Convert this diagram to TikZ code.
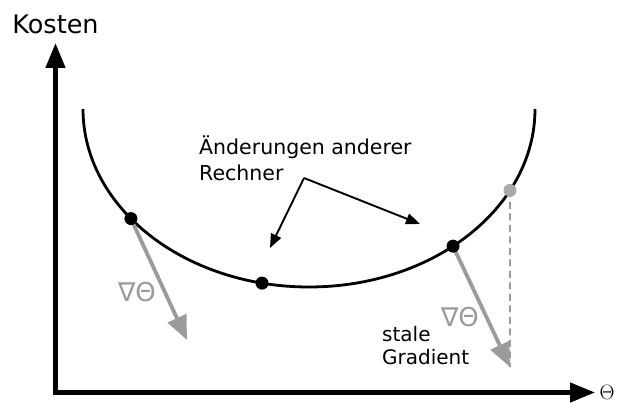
\documentclass[tikz,border=0pt]{standalone}
\usepackage{fontspec}
\setmainfont{DejaVu Sans}
\usetikzlibrary{arrows.meta,calc}
\definecolor{gradgray}{RGB}{155,155,155}
\begin{document}
\begin{tikzpicture}[x=1pt,y=-1pt,
  axis/.style={line width=4.5pt,-{Triangle[length=25pt,width=19pt]}},
  curve/.style={line width=2.8pt},
  grad/.style={gradgray,line width=3.8pt,-{Triangle[length=24pt,width=20pt]}},
  pointer/.style={line width=1.9pt,-{Triangle[length=14pt,width=11pt]}},
  dot/.style={circle,fill=black,inner sep=0pt,minimum size=13pt},
  graydot/.style={circle,fill=gradgray!85,inner sep=0pt,minimum size=13pt},
  lbl/.style={inner sep=0pt,font=\fontsize{20.5}{26}\selectfont},
  gradlbl/.style={inner sep=0pt,text=gradgray,font=\fontsize{26}{26}\selectfont}
]
\useasboundingbox (0,0) rectangle (618,403);
% axes
\coordinate (O) at (55.5,392.5);
\coordinate (ytip) at (55.5,43);
\coordinate (xtip) at (595,392.5);
\draw[line width=4.5pt] (55.5,390.25) -- (O);
\draw[axis] ([yshift=-2.25pt]O) -- (ytip);
\draw[axis] ([xshift=-2.25pt]O) -- (xtip);
\node[inner sep=0pt,anchor=base,font=\fontsize{25.5}{25.5}\selectfont] (kosten) at (55.5,34) {Kosten};
\node[inner sep=0pt,font=\fontsize{22}{22}\selectfont] (theta) at (607,392) {$\Theta$};
% cost curve (half ellipse)
\draw[curve] (83,109) arc[start angle=180,end angle=0,x radius=226,y radius=178];
\coordinate (p1) at ({309+226*cos(142)},{109+178*sin(142)});
\coordinate (p2) at ({309+226*cos(102)},{109+178*sin(102)});
\coordinate (p3) at ({309+226*cos(50.4)},{109+178*sin(50.4)});
\coordinate (p4) at ({309+226*cos(27.2)},{109+178*sin(27.2)});
% gradients
\coordinate (g1) at (187,340);
\coordinate (g3) at (510,367);
\draw[gradgray,line width=1.8pt,dash pattern=on 7pt off 4.5pt] (p4) -- (g3);
\draw[grad] (p1) -- (g1);
\draw[grad] (p3) -- (g3);
\node[dot] (d1) at (p1) {};
\node[dot] (d2) at (p2) {};
\node[dot] (d3) at (p3) {};
\node[graydot] (d4) at (p4) {};
\node[gradlbl] (n1) at (137,292) {∇Θ};
\node[gradlbl] (n2) at (460,317) {∇Θ};
% labels
\node[lbl,anchor=north west,align=left] (aend) at (199,136) {Änderungen anderer\\Rechner};
\coordinate (src) at (304,178);
\draw[pointer] (src) -- (270,248);
\draw[pointer] (src) -- (420,224);
\node[inner sep=0pt,anchor=north west,align=left,font=\fontsize{20}{23.5}\selectfont] (stale) at (382,326) {stale\\Gradient};
\end{tikzpicture}
\end{document}
